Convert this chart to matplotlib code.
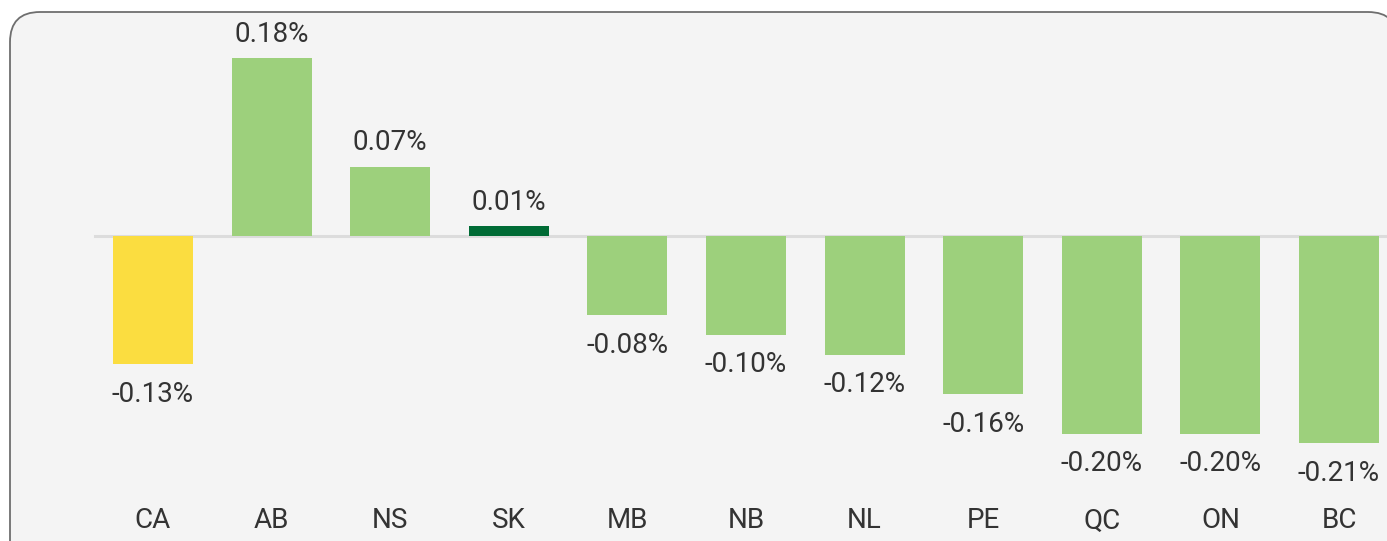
import matplotlib
matplotlib.use('Agg')
import matplotlib.pyplot as plt
from matplotlib.patches import FancyBboxPatch

# Data
provinces = ['CA', 'AB', 'NS', 'SK', 'MB', 'NB', 'NL', 'PE', 'QC', 'ON', 'BC']
changes = [-0.13, 0.18, 0.07, 0.01, -0.08, -0.10, -0.12, -0.16, -0.20, -0.20, -0.21]
bar_colors = ['#fbdd40', '#9dd07c', '#9dd07c', '#006b35', '#9dd07c', '#9dd07c',
              '#9dd07c', '#9dd07c', '#9dd07c', '#9dd07c', '#9dd07c']

plt.rcParams['font.family'] = ['Roboto', 'DejaVu Sans']

W, H = 1387, 541
fig = plt.figure(figsize=(W / 100, H / 100), dpi=100)
fig.patch.set_facecolor('white')

# rounded panel behind the chart
panel = FancyBboxPatch((10, -30), 1388, H - 12 + 30,
                       boxstyle="round,pad=0,rounding_size=30",
                       transform=None, facecolor='#f4f4f4',
                       edgecolor='#6e6e6e', linewidth=1.3, zorder=-1)
fig.add_artist(panel)

ax = fig.add_axes([0, 0, 1, 1])
ax.set_facecolor('none')
for s in ax.spines.values():
    s.set_visible(False)
ax.set_xticks([])
ax.set_yticks([])

# pixel mapping: center of first bar at 153px, pitch 118.6px; zero line at 236px
pitch = 118.6
ax.set_xlim(-153 / pitch, (W - 153) / pitch)
scale = 988.0
ax.set_ylim(-(H - 236) / scale, 236 / scale)

x = list(range(len(provinces)))
ax.axhline(0, xmin=95 / W, xmax=1, color='#dcdcdc', lw=2.2, zorder=1)
ax.bar(x, changes, width=80 / pitch, color=bar_colors, zorder=2)

for xi, v in zip(x, changes):
    if v >= 0:
        ax.annotate(f'{v:.2f}%', (xi, v), xytext=(0, 24), textcoords='offset pixels',
                    ha='center', va='center', fontsize=20, color='#333333')
    else:
        ax.annotate(f'{v:.2f}%', (xi, v), xytext=(0, -30), textcoords='offset pixels',
                    ha='center', va='center', fontsize=20, color='#333333')

label_y = -(521 - 236) / scale
for xi, name in zip(x, provinces):
    ax.text(xi, label_y, name, ha='center', va='center', fontsize=20, color='#333333')

fig.savefig('out.png', dpi=100, facecolor='white')
